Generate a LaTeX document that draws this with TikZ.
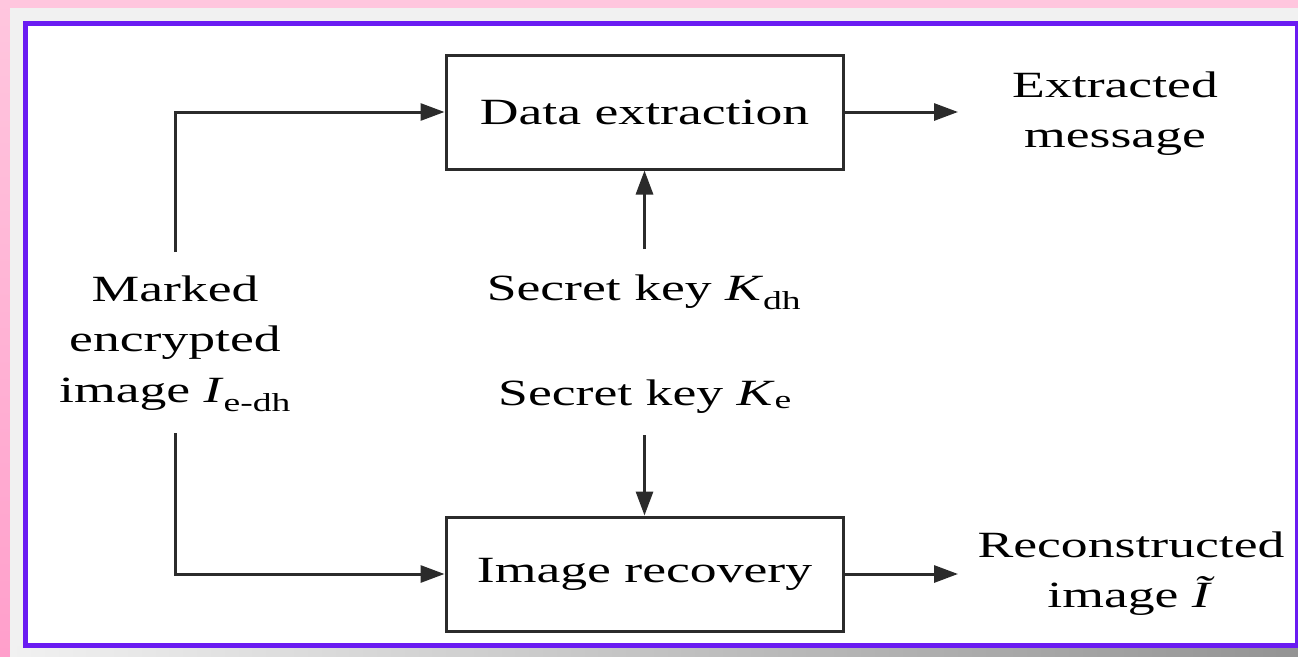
\documentclass[tikz,border=0pt]{standalone}
\usepackage{fontspec}
\setmainfont[FakeStretch=1.45]{Liberation Serif}
\usetikzlibrary{arrows.meta,calc}
\definecolor{pinkbg}{HTML}{FFC6DE}
\definecolor{pinkdeep}{HTML}{FF9FCB}
\definecolor{framegray}{HTML}{F1F1F1}
\definecolor{purpleline}{HTML}{6A1BF2}
\definecolor{ink}{HTML}{2B2B2B}
\tikzset{
  procbox/.style={draw=ink, line width=3pt, minimum width=397pt, minimum height=114pt,
    inner sep=0pt, font=\fontsize{37}{50.5}\selectfont, text=black},
  lbl/.style={align=center, inner sep=0pt, font=\fontsize{37}{50.5}\selectfont, text=black},
  flow/.style={draw=ink, line width=3pt, -{Triangle[length=24pt,width=17pt]}},
  wire/.style={draw=ink, line width=3pt}
}
\begin{document}
\begin{tikzpicture}[x=1pt,y=-1pt]
  \useasboundingbox (0,0) rectangle (1298,656);
  % page background and frame
  \fill[pinkbg] (0,0) rectangle (1298,656);
  \shade[top color=pinkbg, bottom color=pinkdeep] (0,0) rectangle (10,656);
  \fill[framegray] (10,8) rectangle (1298,656);
  \shade[left color=framegray, right color=black!42] (10,646) rectangle (1298,656);
  \draw[purpleline, line width=5pt, fill=white] (25.5,23.5) rectangle (1297.5,645);

  % process boxes
  \node[procbox] (dx) at (644.5,112) {Data extraction};
  \node[procbox] (ir) at (644.5,574) {Image recovery};

  % labels
  \node[lbl] (mk) at (175,343.5) {Marked\\encrypted\\image \textit{I}\textsubscript{e-dh}};
  \node[lbl, anchor=base] (kdh) at (644,300) {Secret key \textit{K}\textsubscript{dh}};
  \node[lbl, anchor=base] (ke) at (645,405) {Secret key \textit{K}\textsubscript{e}};
  \node[lbl] (em) at (1115,113.5) {Extracted\\message};
  \node[lbl] (ri) at (1131,573.5) {Reconstructed\\image \textit{Ĩ}};

  % connector end points
  \coordinate (mkTop) at (175,252);
  \coordinate (mkBot) at (175,433);
  \coordinate (kdhTop) at (644.5,249);
  \coordinate (keBot) at (644.5,435);
  \coordinate (emIn) at (958,112);
  \coordinate (riIn) at (958,574);

  % connectors
  \draw[flow] (mkTop) |- (dx.west);
  \draw[flow] (mkBot) |- (ir.west);
  \draw[flow] (kdhTop) -- (dx.south);
  \draw[flow] (keBot) -- (ir.north);
  \draw[flow] (dx.east) -- (emIn);
  \draw[flow] (ir.east) -- (riIn);
\end{tikzpicture}
\end{document}
